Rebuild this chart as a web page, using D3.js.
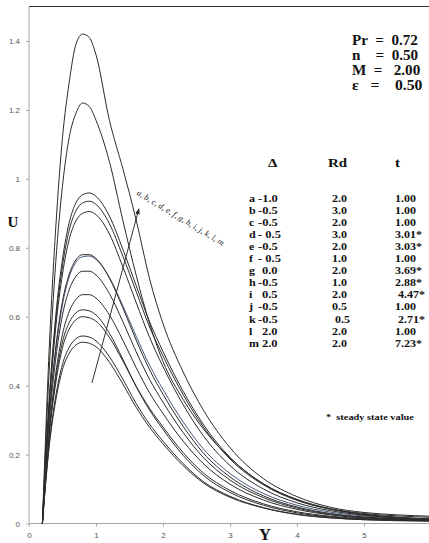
<!DOCTYPE html>
<html>
<head>
<meta charset="utf-8">
<script src="https://cdn.jsdelivr.net/npm/d3@7/dist/d3.min.js"></script>
<style>
  html, body { margin: 0; padding: 0; background: #fff; }
  svg { display: block; }
  .tick text { font-family: "Liberation Sans", Arial, sans-serif; font-size: 8px; fill: #555; }
  .serif { font-family: "Liberation Serif", "Times New Roman", serif; font-weight: bold; fill: #111; white-space: pre; }
</style>
</head>
<body>
<script>
// Velocity profiles U(Y), Pr = 0.72, n = 0.50, M = 2.00, eps = 0.50
const yPos = [0.2, 0.3, 0.4, 0.5, 0.6, 0.7, 0.8, 0.9, 1.0, 1.2, 1.4, 1.6, 1.8, 2.0, 2.3, 2.6, 3.0, 3.5, 4.0, 4.5, 5.0, 5.5, 6.0];

const uA = [0, 0.221, 0.358, 0.447, 0.494, 0.518, 0.526, 0.523, 0.513, 0.468, 0.405, 0.337, 0.279, 0.231, 0.168, 0.118, 0.076, 0.045, 0.026, 0.016, 0.011, 0.008, 0.007];
const uB = [0, 0.228, 0.370, 0.462, 0.511, 0.536, 0.544, 0.541, 0.530, 0.484, 0.419, 0.348, 0.288, 0.239, 0.174, 0.122, 0.079, 0.046, 0.027, 0.017, 0.011, 0.009, 0.007];
const uC = [0, 0.252, 0.408, 0.510, 0.564, 0.591, 0.600, 0.597, 0.587, 0.540, 0.472, 0.398, 0.334, 0.280, 0.206, 0.147, 0.096, 0.057, 0.034, 0.021, 0.014, 0.011, 0.009];
const uD = [0, 0.260, 0.422, 0.527, 0.583, 0.611, 0.620, 0.617, 0.605, 0.552, 0.477, 0.397, 0.329, 0.273, 0.198, 0.140, 0.090, 0.053, 0.031, 0.019, 0.013, 0.010, 0.008];
const uE = [0, 0.263, 0.436, 0.549, 0.615, 0.650, 0.664, 0.664, 0.654, 0.605, 0.532, 0.452, 0.379, 0.319, 0.239, 0.174, 0.114, 0.068, 0.041, 0.025, 0.016, 0.012, 0.009];
const uF = [0, 0.290, 0.480, 0.605, 0.678, 0.717, 0.732, 0.732, 0.721, 0.667, 0.586, 0.498, 0.418, 0.352, 0.264, 0.192, 0.126, 0.075, 0.045, 0.027, 0.018, 0.013, 0.010];
const uG = [0, 0.300, 0.500, 0.635, 0.715, 0.758, 0.774, 0.776, 0.766, 0.714, 0.632, 0.543, 0.459, 0.389, 0.295, 0.217, 0.145, 0.087, 0.053, 0.033, 0.022, 0.016, 0.012];
const uH = [0, 0.309, 0.512, 0.645, 0.723, 0.765, 0.780, 0.780, 0.769, 0.712, 0.626, 0.532, 0.446, 0.375, 0.282, 0.205, 0.135, 0.080, 0.048, 0.029, 0.019, 0.014, 0.011];
const uI = [0, 0.335, 0.570, 0.724, 0.824, 0.878, 0.900, 0.905, 0.896, 0.840, 0.745, 0.641, 0.540, 0.455, 0.345, 0.255, 0.168, 0.100, 0.060, 0.037, 0.024, 0.016, 0.012];
const uJ = [0, 0.346, 0.589, 0.748, 0.851, 0.907, 0.930, 0.935, 0.926, 0.870, 0.776, 0.673, 0.570, 0.486, 0.374, 0.281, 0.187, 0.112, 0.067, 0.041, 0.026, 0.018, 0.013];
const uK = [0, 0.355, 0.604, 0.767, 0.873, 0.930, 0.954, 0.959, 0.949, 0.892, 0.796, 0.690, 0.585, 0.499, 0.384, 0.288, 0.192, 0.115, 0.069, 0.042, 0.027, 0.018, 0.013];
const uL = [0, 0.440, 0.760, 0.980, 1.120, 1.190, 1.220, 1.210, 1.170, 1.050, 0.880, 0.720, 0.580, 0.470, 0.360, 0.275, 0.190, 0.115, 0.070, 0.043, 0.029, 0.022, 0.018];
const uM = [0, 0.500, 0.860, 1.120, 1.280, 1.390, 1.420, 1.410, 1.360, 1.170, 1.030, 0.880, 0.710, 0.580, 0.440, 0.330, 0.220, 0.130, 0.078, 0.047, 0.032, 0.025, 0.021];

const curveKeys = ["a", "b", "c", "d", "e", "f", "g", "h", "i", "j", "k", "l", "m"];
const curveVals = [uA, uB, uC, uD, uE, uF, uG, uH, uI, uJ, uK, uL, uM];

// parameter table
const deltaCol = ["-1.0", "-0.5", "-0.5", "- 0.5", "-0.5", "- 0.5", "0.0", "-0.5", "0.5", "-0.5", "-0.5", "2.0", "2.0"];
const rdCol    = ["2.0", "3.0", "2.0", "3.0", "2.0", "1.0", "2.0", "1.0", "2.0", "0.5", "0.5", "2.0", "2.0"];
const tCol     = ["1.00", "1.00", "1.00", "3.01*", "3.03*", "1.00", "3.69*", "2.88*", "4.47*", "1.00", "2.71*", "1.00", "7.23*"];

const params = ["Pr  =  0.72", "n    =  0.50", "M  =   2.00", "\u03B5   =    0.50"];

const xTicks = [0, 1, 2, 3, 4, 5];
const yTicks = [0, 0.2, 0.4, 0.6, 0.8, 1.0, 1.2, 1.4];

const W = 429, H = 543;
const svg = d3.select("body").append("svg").attr("width", W).attr("height", H);

const x = d3.scaleLinear().domain([0, 6]).range([29, 431]);
const y = d3.scaleLinear().domain([0, 1.5]).range([523.5, 6.5]);

// frame: dark top border, grey axes
svg.append("line").attr("x1", x(0)).attr("x2", W).attr("y1", y(1.5)).attr("y2", y(1.5))
  .attr("stroke", "#333").attr("stroke-width", 1);

const xAxis = svg.append("g").attr("transform", `translate(0,${y(0)})`)
  .call(d3.axisBottom(x).tickValues(xTicks).tickFormat(d3.format("d")).tickSize(3).tickPadding(6));
const yAxis = svg.append("g").attr("transform", `translate(${x(0)},0)`)
  .call(d3.axisLeft(y).tickValues(yTicks).tickFormat(d => d3.format("~g")(d)).tickSize(3).tickPadding(6));
[xAxis, yAxis].forEach(g => {
  g.select(".domain").attr("stroke", "#a6a6a6");
  g.selectAll(".tick line").attr("stroke", "#a6a6a6");
});
xAxis.select(".domain").attr("d", `M${x(0)},0H${W}`);
yAxis.select(".domain").attr("d", `M0,${y(0)}V${y(1.5)}`);

// curves
const line = d3.line().x(d => x(d[0])).y(d => y(d[1])).curve(d3.curveMonotoneX);
const series = curveKeys.map((k, i) => ({ key: k, pts: yPos.map((yy, j) => [yy, curveVals[i][j]]) }));
svg.append("g").selectAll("path").data(series).join("path")
  .attr("d", d => line(d.pts))
  .attr("fill", "none")
  .attr("stroke", d => d.key === "g" ? "#46597a" : "#2b2b2b")
  .attr("stroke-width", 1);

// arrow across the family
const defs = svg.append("defs");
defs.append("marker").attr("id", "ah").attr("viewBox", "0 0 10 10").attr("refX", 9).attr("refY", 5)
  .attr("markerWidth", 6).attr("markerHeight", 6).attr("orient", "auto")
  .append("path").attr("d", "M0,1L10,5L0,9Z").attr("fill", "#222");
svg.append("line")
  .attr("x1", x(0.94)).attr("y1", y(0.408)).attr("x2", x(1.64)).attr("y2", y(0.913))
  .attr("stroke", "#333").attr("stroke-width", 1).attr("marker-end", "url(#ah)");

svg.append("text")
  .attr("transform", `translate(${x(1.60)},${y(0.955)}) rotate(31)`)
  .attr("font-family", "Liberation Serif, Times New Roman, serif").attr("font-size", 8.5)
  .attr("font-style", "italic").attr("fill", "#222")
  .attr("textLength", 100).attr("lengthAdjust", "spacing")
  .text(curveKeys.join(", "));

// axis titles
svg.append("text").attr("class", "serif").attr("x", 13).attr("y", 227).attr("text-anchor", "middle")
  .attr("font-size", 15).text("U");
svg.append("text").attr("class", "serif").attr("x", 265).attr("y", 540).attr("text-anchor", "middle")
  .attr("font-size", 17).text("Y");

// stretched bold serif helper
function sText(g, tx, ty, s, size, sx) {
  return g.append("text").attr("class", "serif")
    .attr("transform", `translate(${tx},${ty}) scale(${sx},1)`)
    .attr("font-size", size).text(s);
}

// parameters box
const pg = svg.append("g");
const pY = [45, 60, 75, 90];
params.forEach((p, i) => sText(pg, 352, pY[i], p, i === 3 ? 14.5 : 14, 1.08));

// table
const tg = svg.append("g");
sText(tg, 268, 167, "\u0394", 13, 1.15);
sText(tg, 328, 167, "Rd", 13, 1.15);
sText(tg, 395, 167, "t", 13, 1.15);
curveKeys.forEach((k, i) => {
  const ry = 201.5 + i * 12.1;
  sText(tg, 249, ry, k, 10, 1.2);
  sText(tg, deltaCol[i][0] === "-" ? 258 : 262, ry, deltaCol[i], 10, 1.25);
  sText(tg, i === 10 ? 335 : 332, ry, rdCol[i], 10, 1.2);
  sText(tg, [8, 10].includes(i) ? 398 : 395, ry, tCol[i], 10, 1.2);
});

sText(svg, 326, 420, "*  steady state value", 9, 1.15);
</script>
</body>
</html>
